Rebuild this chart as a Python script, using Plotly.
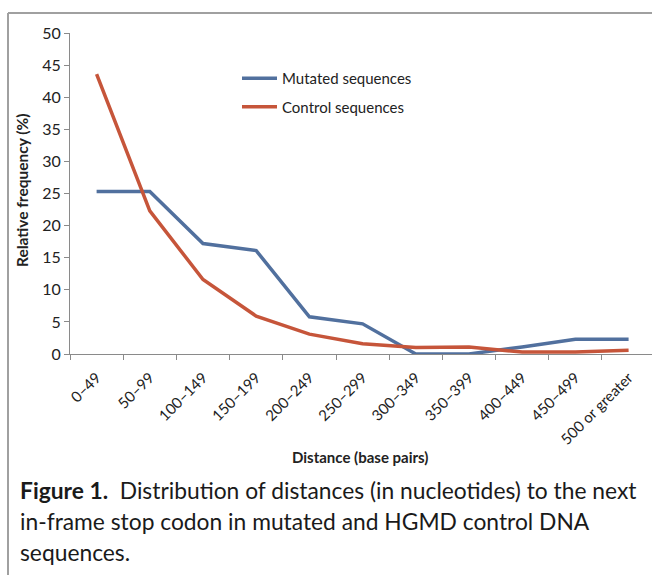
import plotly.graph_objects as go

categories = ["0–49", "50–99", "100–149", "150–199", "200–249", "250–299",
              "300–349", "350–399", "400–449", "450–499", "500 or greater"]
mutated = [25.3, 25.3, 17.2, 16.1, 5.8, 4.7, 0.0, 0.0, 1.1, 2.3, 2.3]
control = [43.6, 22.3, 11.6, 5.9, 3.1, 1.6, 1.0, 1.1, 0.3, 0.3, 0.6]
y_ticks = [0, 5, 10, 15, 20, 25, 30, 35, 40, 45, 50]

BLUE = "#51709E"
RED = "#C6553A"
AXIS = "#8A8A8A"
FONT = "Lato"

fig = go.Figure()
fig.add_trace(go.Scatter(x=categories, y=mutated, mode="lines", name="Mutated sequences",
                         line=dict(color=BLUE, width=3.5), legendgroup="m"))
fig.add_trace(go.Scatter(x=categories, y=control, mode="lines", name="Control sequences",
                         line=dict(color=RED, width=3.5), legendgroup="c"))

W, H = 652, 575
L, T = 70, 33
B = H - 354
fig.update_layout(
    width=W, height=H,
    margin=dict(l=L, r=0, t=T, b=B, autoexpand=False),
    paper_bgcolor="white", plot_bgcolor="white",
    font=dict(family=FONT, color="#222222"),
    showlegend=True,
    legend=dict(x=(237 - L) / (W - L), y=(354 - 62) / (354 - T), xanchor="left", yanchor="top",
                font=dict(family=FONT, size=15, color="#222222"), itemwidth=35,
                tracegroupgap=6, traceorder="grouped", bgcolor="rgba(0,0,0,0)"),
    xaxis=dict(type="category", range=[-0.5, 10.44], showline=True, linecolor=AXIS, linewidth=1.2,
               ticks="outside", tickson="boundaries", ticklen=5, tickcolor=AXIS,
               tickangle=-45, tickfont=dict(family=FONT, size=15, color="#222222"),
               ticklabelstandoff=8,
               showgrid=False, zeroline=False, automargin=False),
    yaxis=dict(range=[0, 50], tickvals=y_ticks, showline=True, linecolor=AXIS, linewidth=1.2,
               ticks="outside", ticklen=5, tickcolor=AXIS,
               tickfont=dict(family=FONT, size=16, color="#222222"),
               showgrid=False, zeroline=False, automargin=False),
)

# axis titles
fig.add_annotation(text="<b>Relative frequency (%)</b>", xref="paper", yref="paper",
                   x=(22 - L) / (W - L), y=(354 - 191) / (354 - T), textangle=-90,
                   xanchor="center", yanchor="middle",
                   showarrow=False, font=dict(family=FONT, size=15.5, color="#222222"))
fig.add_annotation(text="<b>Distance (base pairs)</b>", xref="paper", yref="paper",
                   x=(360 - L) / (W - L), y=(354 - 457) / (354 - T),
                   xanchor="center", yanchor="middle",
                   showarrow=False, font=dict(family=FONT, size=15, color="#222222"))

# caption
caption = ["<b>Figure 1.</b>  Distribution of distances (in nucleotides) to the next",
           "in-frame stop codon in mutated and HGMD control DNA",
           "sequences."]
cap_y = [490, 521, 552]
for line, yy in zip(caption, cap_y):
    fig.add_annotation(text=line, xref="paper", yref="paper", x=(18 - L) / (W - L),
                       y=(354 - yy) / (354 - T), xanchor="left", yanchor="middle",
                       showarrow=False, font=dict(family=FONT, size=22.8, color="#1a1a1a"))

# frame
fig.add_shape(type="line", xref="paper", yref="paper", x0=(8 - L) / (W - L), x1=1.05,
              y0=(354 - 13) / (354 - T), y1=(354 - 13) / (354 - T), line=dict(color="#A0A0A0", width=2))
fig.add_shape(type="line", xref="paper", yref="paper", x0=(8 - L) / (W - L), x1=(8 - L) / (W - L),
              y0=(354 - 13) / (354 - T), y1=(354 - 580) / (354 - T), line=dict(color="#A0A0A0", width=2))

fig.write_html("out.html", config={"displayModeBar": False},
               post_script="document.body.style.margin='0';")
